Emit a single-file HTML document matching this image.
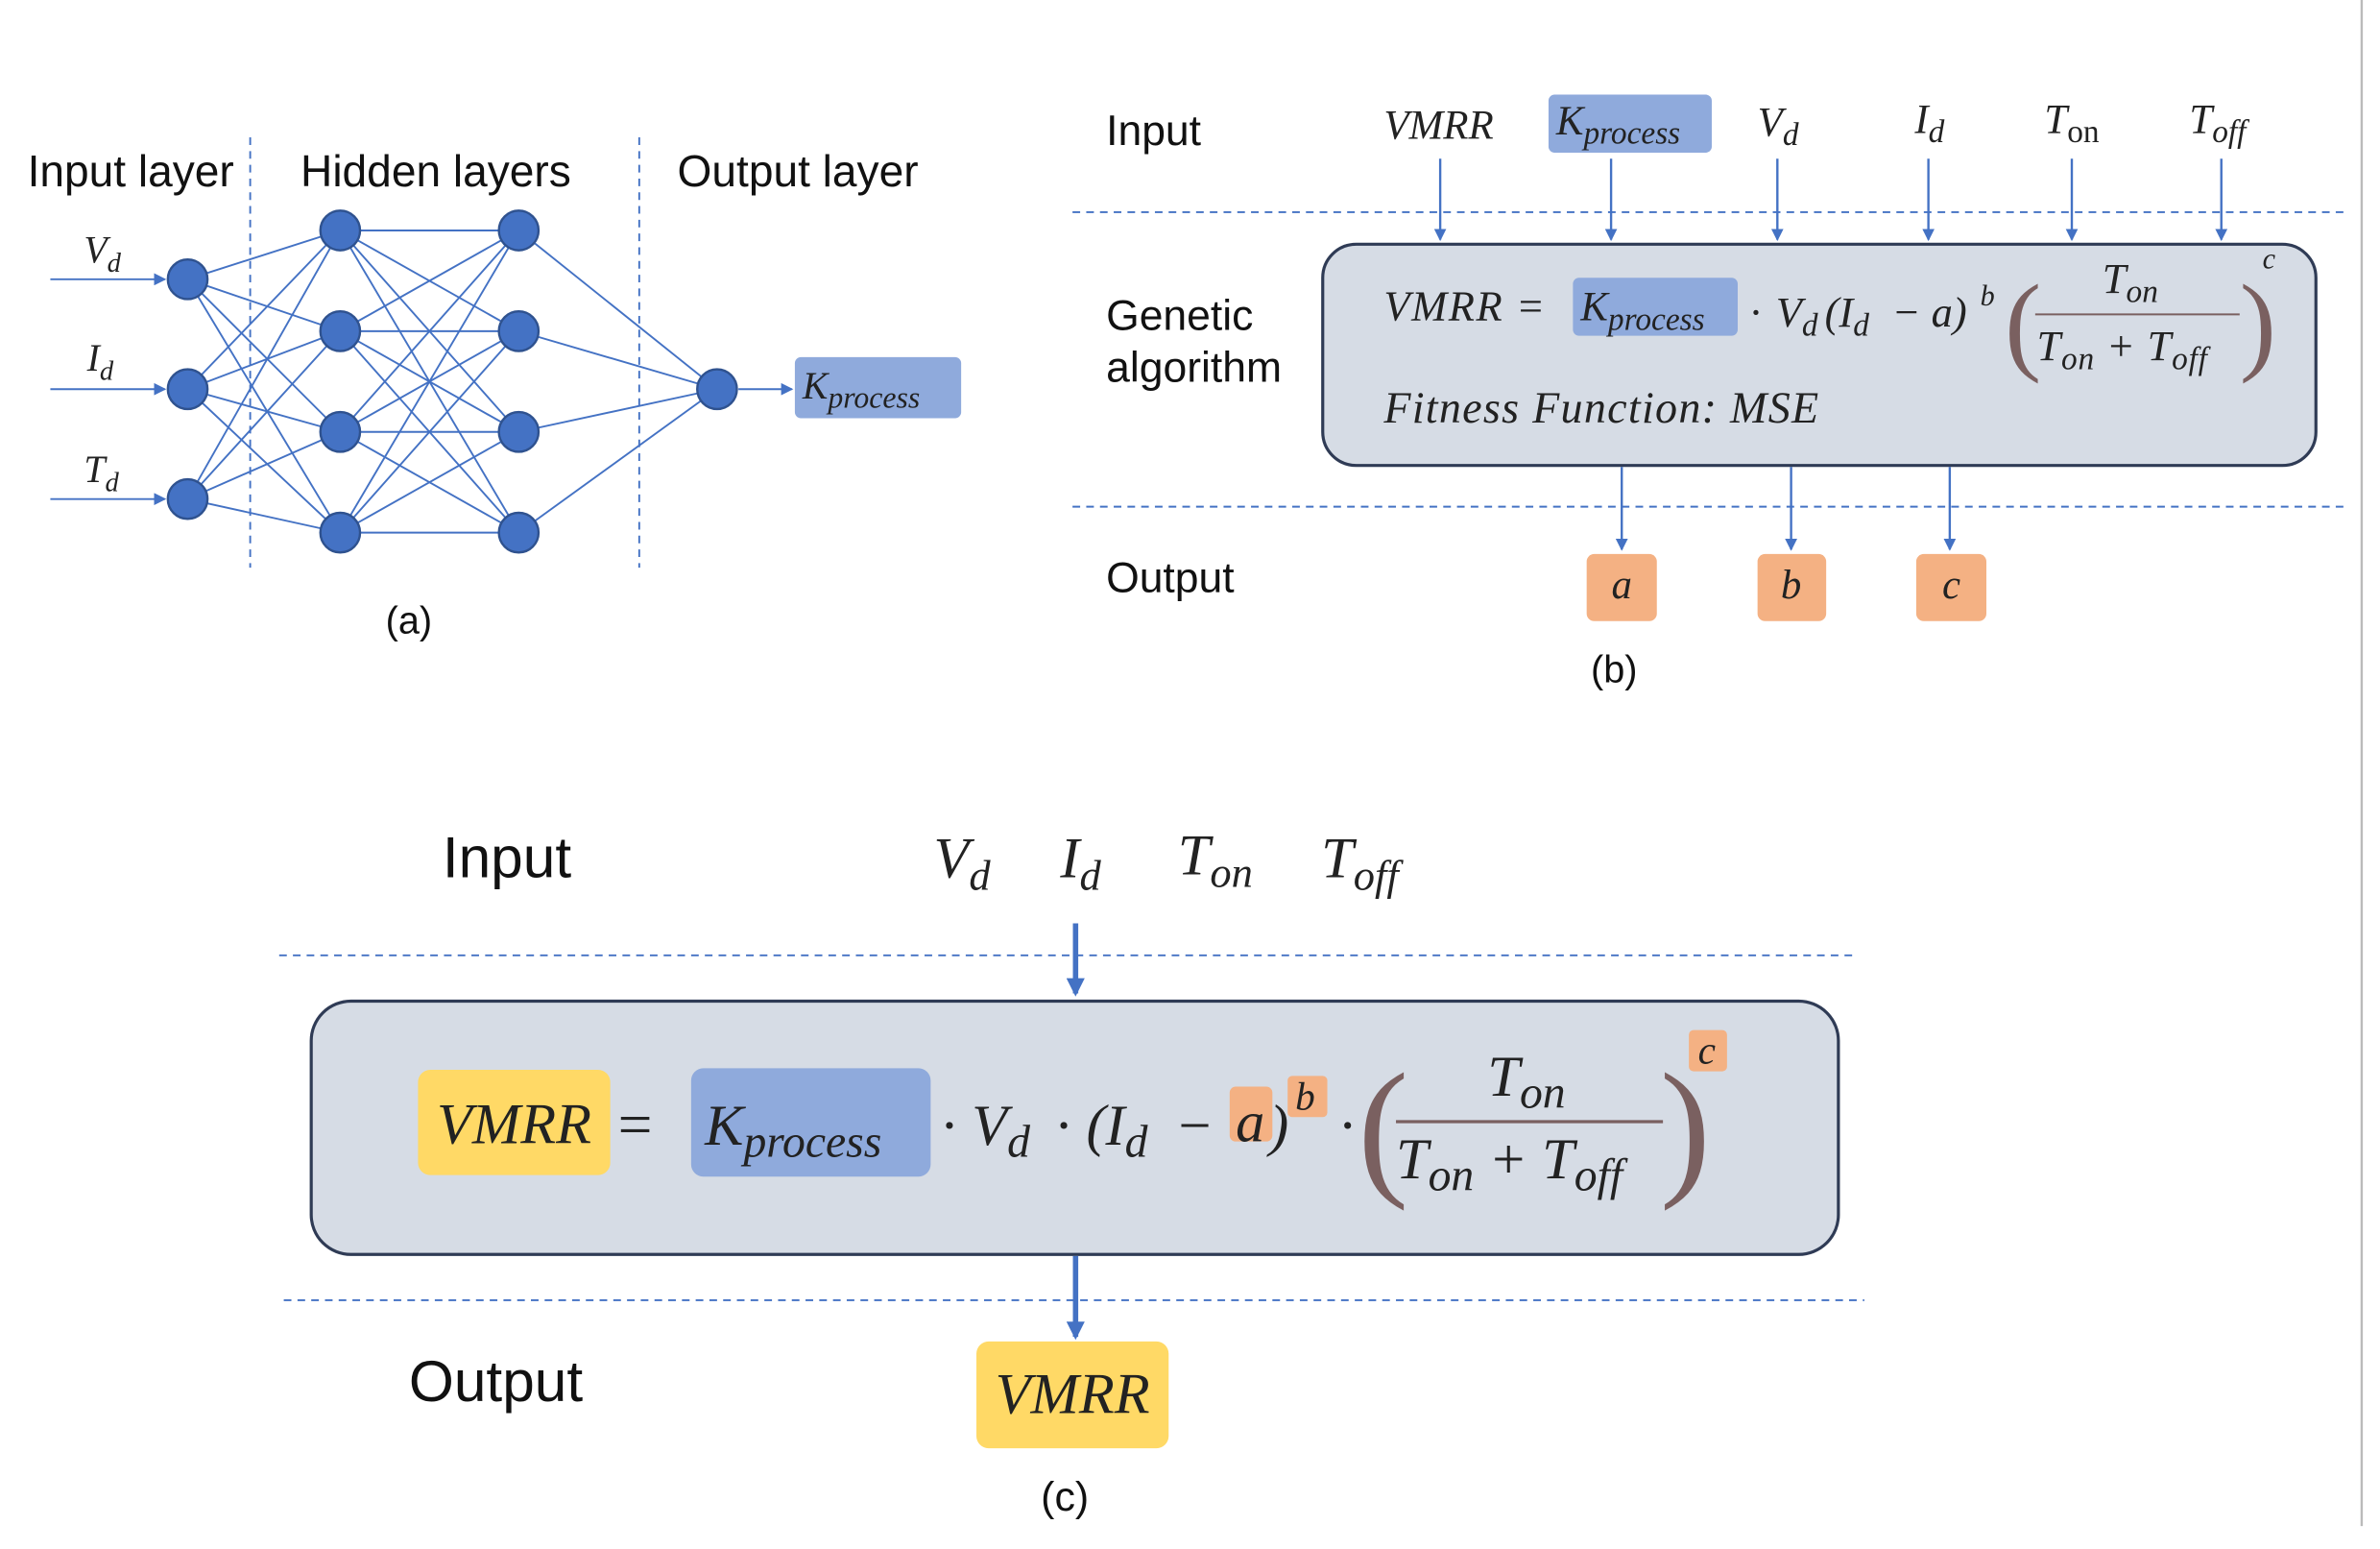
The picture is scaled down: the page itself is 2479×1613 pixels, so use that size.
<!DOCTYPE html>
<html><head><meta charset="utf-8"><style>
html,body{margin:0;padding:0;background:#fff;}
svg{display:block}
.s{font-family:"Liberation Sans",sans-serif;fill:#111}
.m{font-family:"Liberation Serif",serif;font-style:italic;fill:#222}
</style></head><body>
<svg width="2479" height="1613" viewBox="0 0 1560 1015" xmlns="http://www.w3.org/2000/svg">
<defs>
<marker id="ar" markerWidth="8" markerHeight="8" refX="7" refY="4" orient="auto" markerUnits="userSpaceOnUse"><path d="M0,0 L8,4 L0,8z" fill="#4472c4"/></marker>
<marker id="ar2" markerWidth="12" markerHeight="12" refX="10" refY="6" orient="auto" markerUnits="userSpaceOnUse"><path d="M0,0 L12,6 L0,12z" fill="#4472c4"/></marker>
</defs>
<rect width="1560" height="1015" fill="#fff"/>
<line x1="1548" y1="0" x2="1548" y2="1000" stroke="#bbb" stroke-width="1.5"/>

<!-- (a) -->
<g stroke="#4472c4" stroke-width="1.2">
<line x1="123" y1="183" x2="223" y2="151"/><line x1="123" y1="183" x2="223" y2="217"/><line x1="123" y1="183" x2="223" y2="283"/><line x1="123" y1="183" x2="223" y2="349"/>
<line x1="123" y1="255" x2="223" y2="151"/><line x1="123" y1="255" x2="223" y2="217"/><line x1="123" y1="255" x2="223" y2="283"/><line x1="123" y1="255" x2="223" y2="349"/>
<line x1="123" y1="327" x2="223" y2="151"/><line x1="123" y1="327" x2="223" y2="217"/><line x1="123" y1="327" x2="223" y2="283"/><line x1="123" y1="327" x2="223" y2="349"/>
<line x1="223" y1="151" x2="340" y2="151"/><line x1="223" y1="151" x2="340" y2="217"/><line x1="223" y1="151" x2="340" y2="283"/><line x1="223" y1="151" x2="340" y2="349"/>
<line x1="223" y1="217" x2="340" y2="151"/><line x1="223" y1="217" x2="340" y2="217"/><line x1="223" y1="217" x2="340" y2="283"/><line x1="223" y1="217" x2="340" y2="349"/>
<line x1="223" y1="283" x2="340" y2="151"/><line x1="223" y1="283" x2="340" y2="217"/><line x1="223" y1="283" x2="340" y2="283"/><line x1="223" y1="283" x2="340" y2="349"/>
<line x1="223" y1="349" x2="340" y2="151"/><line x1="223" y1="349" x2="340" y2="217"/><line x1="223" y1="349" x2="340" y2="283"/><line x1="223" y1="349" x2="340" y2="349"/>
<line x1="340" y1="151" x2="470" y2="255"/><line x1="340" y1="217" x2="470" y2="255"/><line x1="340" y1="283" x2="470" y2="255"/><line x1="340" y1="349" x2="470" y2="255"/>
<line x1="33" y1="183" x2="108" y2="183" marker-end="url(#ar)"/>
<line x1="33" y1="255" x2="108" y2="255" marker-end="url(#ar)"/>
<line x1="33" y1="327" x2="108" y2="327" marker-end="url(#ar)"/>
<line x1="484" y1="255" x2="519" y2="255" marker-end="url(#ar)"/>
</g>
<g fill="#4472c4" stroke="#2f528f" stroke-width="1.5">
<circle cx="123" cy="183" r="13"/><circle cx="123" cy="255" r="13"/><circle cx="123" cy="327" r="13"/>
<circle cx="223" cy="151" r="13"/><circle cx="223" cy="217" r="13"/><circle cx="223" cy="283" r="13"/><circle cx="223" cy="349" r="13"/>
<circle cx="340" cy="151" r="13"/><circle cx="340" cy="217" r="13"/><circle cx="340" cy="283" r="13"/><circle cx="340" cy="349" r="13"/>
<circle cx="470" cy="255" r="13"/>
</g>
<g stroke="#4472c4" stroke-width="1.2" stroke-dasharray="5,4">
<line x1="164" y1="90" x2="164" y2="372"/><line x1="419" y1="90" x2="419" y2="372"/>
</g>
<text class="s" x="18" y="122" font-size="29">Input layer</text>
<text class="s" x="197" y="122" font-size="29">Hidden layers</text>
<text class="s" x="444" y="122" font-size="29">Output layer</text>
<text class="m" x="55" y="172" font-size="25">V<tspan font-size="18" dy="6">d</tspan></text>
<text class="m" x="57" y="243" font-size="25">I<tspan font-size="18" dy="6">d</tspan></text>
<text class="m" x="55" y="316" font-size="25">T<tspan font-size="18" dy="6">d</tspan></text>
<rect x="521" y="234" width="109" height="40" rx="4" fill="#8faadc"/>
<text class="m" x="526" y="261" font-size="25">K<tspan font-size="20" dy="6">process</tspan></text>
<text class="s" x="268" y="415" font-size="25" text-anchor="middle">(a)</text>

<!-- (b) -->
<g stroke="#4472c4" stroke-width="1.2" stroke-dasharray="5,4">
<line x1="703" y1="139" x2="1540" y2="139"/><line x1="703" y1="332" x2="1540" y2="332"/>
</g>
<rect x="867" y="160" width="651" height="145" rx="22" fill="#d6dce5" stroke="#2f3b55" stroke-width="2"/>
<g stroke="#4472c4" stroke-width="1.5">
<line x1="944" y1="104" x2="944" y2="157" marker-end="url(#ar)"/>
<line x1="1056" y1="104" x2="1056" y2="157" marker-end="url(#ar)"/>
<line x1="1165" y1="104" x2="1165" y2="157" marker-end="url(#ar)"/>
<line x1="1264" y1="104" x2="1264" y2="157" marker-end="url(#ar)"/>
<line x1="1358" y1="104" x2="1358" y2="157" marker-end="url(#ar)"/>
<line x1="1456" y1="104" x2="1456" y2="157" marker-end="url(#ar)"/>
<line x1="1063" y1="306" x2="1063" y2="360" marker-end="url(#ar)"/>
<line x1="1174" y1="306" x2="1174" y2="360" marker-end="url(#ar)"/>
<line x1="1278" y1="306" x2="1278" y2="360" marker-end="url(#ar)"/>
</g>
<text class="s" x="725" y="95" font-size="28">Input</text>
<text class="s" x="725" y="216" font-size="28">Genetic</text>
<text class="s" x="725" y="250" font-size="28">algorithm</text>
<text class="s" x="725" y="388" font-size="28">Output</text>
<text class="m" x="907" y="91" font-size="27">VMRR</text>
<rect x="1015" y="62" width="107" height="38" rx="4" fill="#8faadc"/>
<text class="m" x="1020" y="88" font-size="27">K<tspan font-size="21" dy="6">process</tspan></text>
<text class="m" x="1152" y="89" font-size="27">V<tspan font-size="21" dy="6">d</tspan></text>
<text class="m" x="1255" y="87" font-size="27">I<tspan font-size="21" dy="6">d</tspan></text>
<text class="m" x="1340" y="87" font-size="27">T<tspan font-size="21" dy="6" font-style="normal">on</tspan></text>
<text class="m" x="1435" y="87" font-size="27">T<tspan font-size="21" dy="6">off</tspan></text>
<text class="m" x="907" y="210" font-size="28" letter-spacing="1">VMRR =</text>
<rect x="1031" y="182" width="108" height="38" rx="4" fill="#8faadc"/>
<text class="m" x="1036" y="210" font-size="27">K<tspan font-size="21" dy="6">process</tspan></text>
<text class="m" x="1147" y="214" font-size="28">·</text>
<text class="m" x="1164" y="214" font-size="28">V<tspan font-size="21" dy="6">d</tspan></text>
<text class="m" x="1196" y="214" font-size="28">(I<tspan font-size="21" dy="6">d</tspan></text>
<text class="m" x="1240" y="214" font-size="28">− a)</text>
<text class="m" x="1298" y="200" font-size="19">b</text>
<text x="1314" y="236" font-family="Liberation Serif" font-size="72" fill="#7a6060">(</text>
<text x="1468" y="236" font-family="Liberation Serif" font-size="72" fill="#7a6060">)</text>
<text class="m" x="1483" y="176" font-size="19">c</text>
<text class="m" x="1378" y="192" font-size="28">T<tspan font-size="21" dy="6">on</tspan></text>
<line x1="1334" y1="206" x2="1468" y2="206" stroke="#7a6060" stroke-width="1.3"/>
<text class="m" x="1335" y="236" font-size="28" letter-spacing="0.5">T<tspan font-size="21" dy="6">on</tspan><tspan dy="-6"> + T</tspan><tspan font-size="21" dy="6">off</tspan></text>
<text class="m" x="907" y="277" font-size="29" letter-spacing="0.8">Fitness Function: MSE</text>
<rect x="1040" y="363" width="46" height="44" rx="5" fill="#f4b183"/>
<rect x="1152" y="363" width="45" height="44" rx="5" fill="#f4b183"/>
<rect x="1256" y="363" width="46" height="44" rx="5" fill="#f4b183"/>
<text class="m" x="1063" y="392" font-size="27" text-anchor="middle">a</text>
<text class="m" x="1174" y="392" font-size="27" text-anchor="middle">b</text>
<text class="m" x="1279" y="392" font-size="27" text-anchor="middle">c</text>
<text class="s" x="1058" y="447" font-size="25" text-anchor="middle">(b)</text>

<!-- (c) -->
<g stroke="#4472c4" stroke-width="1.2" stroke-dasharray="5,4">
<line x1="183" y1="626" x2="1218" y2="626"/><line x1="186" y1="852" x2="1222" y2="852"/>
</g>
<rect x="204" y="656" width="1001" height="166" rx="26" fill="#d6dce5" stroke="#2f3b55" stroke-width="2"/>
<line x1="705" y1="605" x2="705" y2="651" stroke="#4472c4" stroke-width="3.5" marker-end="url(#ar2)"/>
<line x1="705" y1="823" x2="705" y2="876" stroke="#4472c4" stroke-width="3.5" marker-end="url(#ar2)"/>
<text class="s" x="290" y="575" font-size="38">Input</text>
<text class="s" x="268" y="918" font-size="38">Output</text>
<text class="m" x="612" y="575" font-size="38">V<tspan font-size="28" dy="8">d</tspan></text>
<text class="m" x="695" y="575" font-size="38">I<tspan font-size="28" dy="8">d</tspan></text>
<text class="m" x="772" y="573" font-size="38">T<tspan font-size="28" dy="8">on</tspan></text>
<text class="m" x="866" y="575" font-size="38">T<tspan font-size="28" dy="8">off</tspan></text>
<rect x="274" y="701" width="126" height="69" rx="8" fill="#ffd966"/>
<text class="m" x="337" y="749" font-size="38" text-anchor="middle">VMRR</text>
<text x="405" y="750" font-family="Liberation Serif" font-size="40" fill="#222">=</text>
<rect x="453" y="700" width="157" height="71" rx="8" fill="#8faadc"/>
<text class="m" x="462" y="750" font-size="38">K<tspan font-size="30" dy="8">process</tspan></text>
<rect x="806" y="712" width="28" height="36" rx="4" fill="#f4b183"/>
<rect x="844" y="705" width="26" height="27" rx="3" fill="#f4b183"/>
<rect x="1107" y="675" width="25" height="27" rx="3" fill="#f4b183"/>
<text class="m" x="617" y="750" font-size="38">·</text>
<text class="m" x="637" y="750" font-size="38">V<tspan font-size="30" dy="8">d</tspan></text>
<text class="m" x="692" y="750" font-size="38">·</text>
<text class="m" x="712" y="750" font-size="38">(I<tspan font-size="30" dy="8">d</tspan></text>
<text class="m" x="770" y="750" font-size="38">−</text>
<text class="m" x="810" y="748" font-size="38">a</text>
<text class="m" x="832" y="750" font-size="38">)</text>
<text class="m" x="849" y="727" font-size="26">b</text>
<text class="m" x="878" y="750" font-size="38">·</text>
<text x="890" y="772" font-family="Liberation Serif" font-size="100" fill="#7a6060">(</text>
<text x="1088" y="772" font-family="Liberation Serif" font-size="100" fill="#7a6060">)</text>
<text class="m" x="1113" y="697" font-size="26">c</text>
<text class="m" x="975" y="718" font-size="38">T<tspan font-size="30" dy="8">on</tspan></text>
<line x1="915" y1="735" x2="1090" y2="735" stroke="#7a6060" stroke-width="2"/>
<text class="m" x="915" y="772" font-size="38">T<tspan font-size="30" dy="8">on</tspan><tspan dy="-8"> + T</tspan><tspan font-size="30" dy="8">off</tspan></text>
<rect x="640" y="879" width="126" height="70" rx="8" fill="#ffd966"/>
<text class="m" x="703" y="926" font-size="38" text-anchor="middle">VMRR</text>
<text class="s" x="698" y="990" font-size="27" text-anchor="middle">(c)</text>
</svg>
</body></html>
